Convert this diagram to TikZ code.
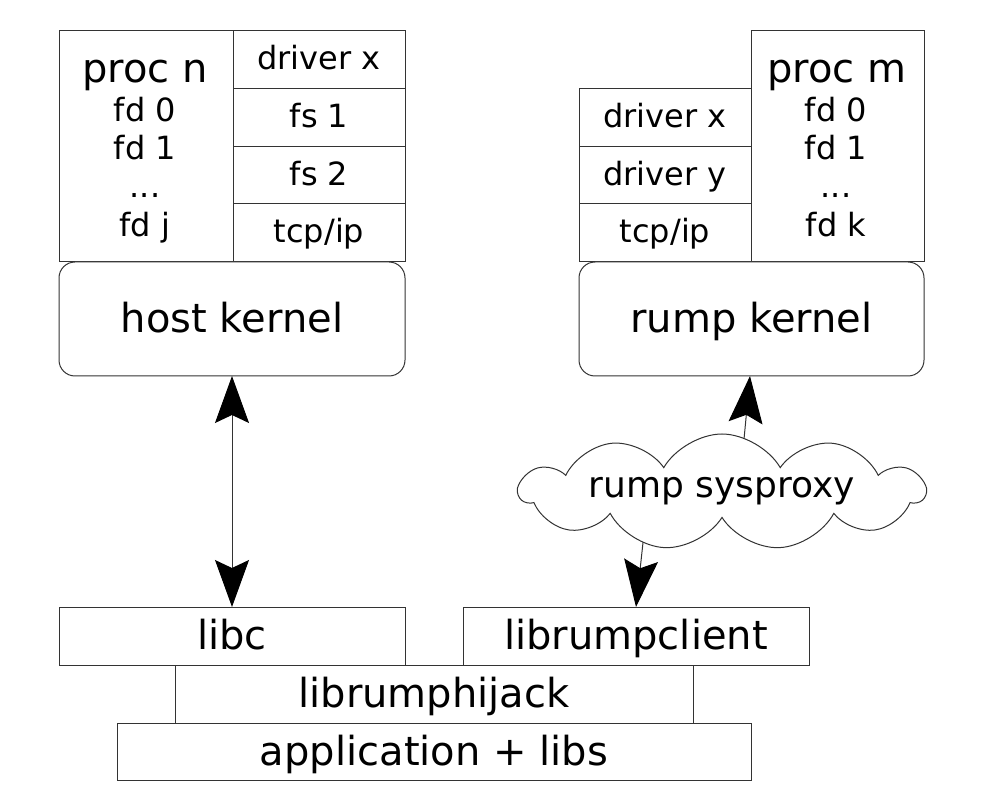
\documentclass[tikz,border=0pt]{standalone}
\usepackage{fontspec}
\setmainfont{DejaVu Sans}
\usetikzlibrary{shapes.symbols,arrows.meta,backgrounds}
\begin{document}
\begin{tikzpicture}[x=1pt,y=-1pt,
  line/.style={draw=black!80, line width=1pt},
  box/.style={line, rectangle, inner sep=0pt, outer sep=0pt, fill=white},
  bigf/.style={font=\fontsize{40}{40}\selectfont},
  midf/.style={font=\fontsize{32}{32}\selectfont},
  midbox/.style={box, midf, text height=20pt, text depth=0pt, minimum width=172pt},
  bigbox/.style={box, bigf, text height=27pt, text depth=0pt, minimum height=57pt},
  kernel/.style={box, bigf, rounded corners=16pt, text height=28pt, text depth=0pt, minimum height=114pt},
  lbl/.style={anchor=base, inner sep=0pt},
  bigtip/.tip={Stealth[length=47pt,width=34pt,inset=8pt,color=black]},
]
\useasboundingbox (0,0) rectangle (986,799);

% ---- left group
\node[box, minimum width=174pt, minimum height=231pt] (procn) at (146,146.5) {};
\node[lbl, bigf] (pn1) at (145,83) {proc n};
\node[lbl, midf] (pn2) at (145,122) {fd 0};
\node[lbl, midf] (pn3) at (145,160) {fd 1};
\node[lbl, midf] (pn4) at (145,198) {...};
\node[lbl, midf] (pn5) at (145,237) {fd j};
\node[midbox, minimum height=58pt] (ldx) at (319,60) {driver x};
\node[midbox, minimum height=58pt] (lfs1) at (319,118) {fs 1};
\node[midbox, minimum height=57pt] (lfs2) at (319,175.5) {fs 2};
\node[midbox, minimum height=58pt] (ltcp) at (319,233) {tcp/ip};
\node[kernel, minimum width=346pt] (hk) at (232,319) {host kernel};

% ---- right group
\node[box, minimum width=173pt, minimum height=231pt] (procm) at (837.5,146.5) {};
\node[lbl, bigf] (pm1) at (837,83) {proc m};
\node[lbl, midf] (pm2) at (836,122) {fd 0};
\node[lbl, midf] (pm3) at (836,160) {fd 1};
\node[lbl, midf] (pm4) at (836,198) {...};
\node[lbl, midf] (pm5) at (836,237) {fd k};
\node[midbox, minimum height=58pt] (rdx) at (665,118) {driver x};
\node[midbox, minimum height=57pt] (rdy) at (665,175.5) {driver y};
\node[midbox, minimum height=58pt] (rtcp) at (665,233) {tcp/ip};
\node[kernel, minimum width=345pt] (rk) at (751.5,319) {rump kernel};

% ---- bottom stack
\node[bigbox, minimum width=634pt, minimum height=57pt] (app) at (434,751.5) {application + libs};
\node[bigbox, minimum width=518pt, minimum height=58pt] (hij) at (434,694) {librumphijack};
\node[bigbox, minimum width=346pt, minimum height=58pt] (libc) at (232,636) {libc};
\node[bigbox, minimum width=346pt, minimum height=58pt] (lrc) at (636,636) {librumpclient};

% ---- cloud
\node[cloud, cloud ignores aspect, draw=black!80, line width=1pt, fill=white, cloud puffs=11, cloud puff arc=120,
      minimum width=405pt, minimum height=116pt, inner sep=0pt,
      font=\fontsize{36}{36}\selectfont, text height=12pt, text depth=0pt] (cloud) at (722,492) {rump sysproxy};

% ---- connectors
\draw[line, bigtip-bigtip] (hk.south) -- (libc.north);
\begin{scope}[on background layer]
\draw[line, -bigtip] ([xshift=17pt]cloud.center) -- ([xshift=-1.5pt]rk.south);
\draw[line, -bigtip] ([xshift=-73.5pt]cloud.center) -- (lrc.north);
\end{scope}
\end{tikzpicture}
\end{document}
